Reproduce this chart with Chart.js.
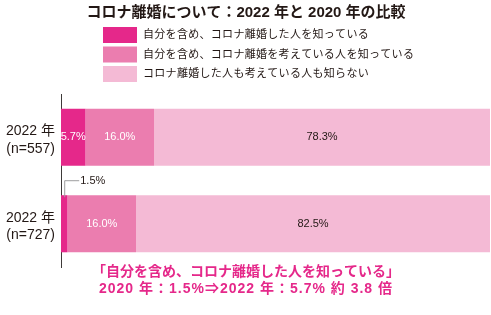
<!DOCTYPE html>
<html lang="ja">
<head>
<meta charset="utf-8">
<script src="https://cdn.jsdelivr.net/npm/chart.js@4"></script>
<style>
  html, body { margin: 0; padding: 0; background: #fff; }
  #wrap { width: 491px; height: 315px; position: relative; }
</style>
</head>
<body>
<div id="wrap"><canvas id="chart" width="491" height="315"></canvas></div>
<script>
const title = "コロナ離婚について：2022 年と 2020 年の比較";
const categories = [["2022 年", "(n=557)"], ["2022 年", "(n=727)"]];
const seriesNames = [
  "自分を含め、コロナ離婚した人を知っている",
  "自分を含め、コロナ離婚を考えている人を知っている",
  "コロナ離婚した人も考えている人も知らない",
];
const knowDivorced = [5.7, 1.5];
const knowConsidering = [16.0, 16.0];
const knowNeither = [78.3, 82.5];
const noteLines = [
  "「自分を含め、コロナ離婚した人を知っている」",
  "2020 年：1.5%⇒2022 年：5.7% 約 3.8 倍",
];

const colors = ["#e5288a", "#eb7daf", "#f4bad5"];
const labelColors = ["#ffffff", "#ffffff", "#231815"];
const font = "'Liberation Sans', 'Noto Sans CJK JP', sans-serif";
const ink = "#231815";

const overlay = {
  id: "overlay",
  afterDatasetsDraw(chart) {
    const ctx = chart.ctx;
    ctx.save();
    ctx.textBaseline = "middle";

    // segment labels
    chart.data.datasets.forEach((ds, di) => {
      const meta = chart.getDatasetMeta(di);
      meta.data.forEach((bar, i) => {
        const v = ds.data[i];
        if (v < 3) return;
        ctx.fillStyle = labelColors[di];
        ctx.font = `11px ${font}`;
        ctx.textAlign = "center";
        ctx.fillText(v.toFixed(1) + "%", (bar.base + bar.x) / 2, bar.y);
      });
    });

    // callout for small segment
    const small = chart.getDatasetMeta(0).data[1];
    const sx = (small.base + small.x) / 2;
    const top = small.y - small.height / 2;
    ctx.strokeStyle = "#9e9e9f";
    ctx.lineWidth = 1;
    ctx.beginPath();
    ctx.moveTo(sx + 0.5, top + 2);
    ctx.lineTo(sx + 0.5, top - 14.5);
    ctx.lineTo(sx + 15, top - 14.5);
    ctx.stroke();
    ctx.fillStyle = ink;
    ctx.textAlign = "left";
    ctx.font = `11px ${font}`;
    ctx.fillText(knowDivorced[1].toFixed(1) + "%", sx + 16, top - 14);

    // title
    ctx.textAlign = "center";
    ctx.font = `bold 15px ${font}`;
    ctx.fillStyle = ink;
    ctx.fillText(title, 246, 13);

    // legend
    ctx.textAlign = "left";
    ctx.font = `11px ${font}`;
    ctx.letterSpacing = "0.3px";
    seriesNames.forEach((name, i) => {
      const y = 27 + i * 19.5;
      ctx.fillStyle = colors[i];
      ctx.fillRect(103, y, 34, 16);
      ctx.fillStyle = ink;
      ctx.fillText(name, 143, y + 8);
    });

    // note
    ctx.textAlign = "center";
    ctx.font = `bold 14px ${font}`;
    ctx.fillStyle = "#e5288a";
    noteLines.forEach((line, i) => {
      ctx.letterSpacing = i === 1 ? "1px" : "0px";
      ctx.fillText(line, 246, 272 + i * 17);
    });
    ctx.restore();
  },
};

new Chart(document.getElementById("chart"), {
  type: "bar",
  data: {
    labels: categories,
    datasets: [knowDivorced, knowConsidering, knowNeither].map((data, i) => ({
      label: seriesNames[i],
      data,
      backgroundColor: colors[i],
      borderWidth: 0,
      barPercentage: 0.66,
      categoryPercentage: 1,
    })),
  },
  options: {
    indexAxis: "y",
    responsive: false,
    animation: false,
    events: [],
    layout: { padding: { top: 94, bottom: 48, right: 1, left: 0 } },
    scales: {
      x: { stacked: true, min: 0, max: 100, display: false },
      y: {
        stacked: true,
        afterFit(axis) { axis.width = 61; },
        grid: { display: false, drawTicks: false },
        border: { display: true, color: "#3e3a39", width: 1 },
        ticks: {
          color: ink,
          padding: 6,
          labelOffset: 3,
          font: { family: font, size: 14, lineHeight: 1.25 },
        },
      },
    },
    plugins: { legend: { display: false }, tooltip: { enabled: false } },
  },
  plugins: [overlay],
});
</script>
</body>
</html>
